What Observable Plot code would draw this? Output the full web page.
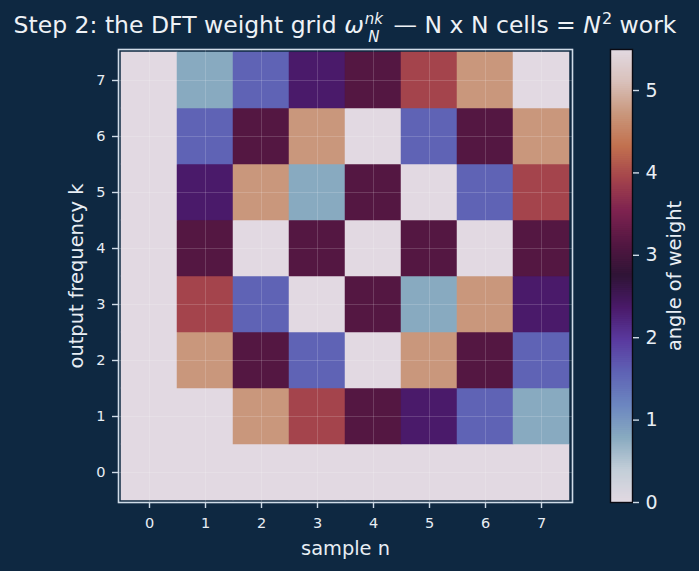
<!DOCTYPE html>
<html>
<head>
<meta charset="utf-8">
<script src="https://cdn.jsdelivr.net/npm/d3@7"></script>
<script src="https://cdn.jsdelivr.net/npm/@observablehq/plot@0.6"></script>
<style>
  html, body { margin: 0; padding: 0; background: #0e2841; }
  #wrap { position: relative; width: 699px; height: 571px; background: #0e2841; overflow: hidden;
          font-family: "DejaVu Sans", sans-serif; color: #eef2f6; }
  #title { position: absolute; left: 0; top: 8px; width: 690px; text-align: center; font-size: 23.5px;
           line-height: 34px; white-space: nowrap; }
  #title i { font-style: italic; }
  .scripts { display: inline-flex; flex-direction: column; position: relative; top: -9px;
             font-size: 15px; line-height: 17.6px; font-style: italic; margin-left: 1px; margin-right: 3px; }
  .sup2 { font-size: 16px; position: relative; top: -9px; margin-left: 1px; }
  #main { position: absolute; left: 0; top: 40px; }
  #cbar { position: absolute; left: 590px; top: 40px; }
</style>
</head>
<body>
<div id="wrap">
  <div id="title">Step 2: the DFT weight grid <i>ω</i><span class="scripts"><span>nk</span><span>N</span></span> — N x N cells = <i>N</i><span class="sup2">2</span> work</div>
  <div id="main"></div>
  <div id="cbar"></div>
</div>
<script>
// ---- data ----
const SAMPLE_N = [0, 1, 2, 3, 4, 5, 6, 7];
const FREQ_K = [0, 1, 2, 3, 4, 5, 6, 7];
// angle of each weight, in units of pi/4, one row per output frequency k (k = 0..7), columns n = 0..7
const ANGLE_STEPS = [
  [0, 0, 0, 0, 0, 0, 0, 0],
  [0, 7, 6, 5, 4, 3, 2, 1],
  [0, 6, 4, 2, 0, 6, 4, 2],
  [0, 5, 2, 7, 4, 1, 6, 3],
  [0, 4, 0, 4, 0, 4, 0, 4],
  [0, 3, 6, 1, 4, 7, 2, 5],
  [0, 2, 4, 6, 0, 2, 4, 6],
  [0, 1, 2, 3, 4, 5, 6, 7]
];
const ANGLE_UNIT = Math.PI / 4;
const ANGLE_MAX = 7 * Math.PI / 4;
const CBAR_TICKS = [0, 1, 2, 3, 4, 5];
// twilight-like colormap stops
const TWILIGHT = ["#e2d9e2", "#c3ced8", "#88aac0", "#6c86c0", "#5f63b5", "#5a3a9f", "#4a1a6a",
                  "#2f1436", "#541742", "#7e2350", "#a4444c", "#c2714f", "#c9977c", "#d9c1bb", "#e2d9e2"];

const cells = [];
FREQ_K.forEach((k, i) => SAMPLE_N.forEach((n, j) => cells.push({n, k, angle: ANGLE_STEPS[i][j] * ANGLE_UNIT})));

const interp = d3.piecewise(d3.interpolateRgb, TWILIGHT);
const colorScale = {type: "linear", domain: [0, ANGLE_MAX], interpolate: interp};
const fg = "#e8eef4";
const spine = "#cfdbe7";

const main = Plot.plot({
  width: 699, height: 531,
  marginLeft: 118, marginRight: 127, marginTop: 9, marginBottom: 69,
  style: {background: "transparent", color: fg, fontFamily: "DejaVu Sans", fontSize: "14.5px", overflow: "visible"},
  x: {type: "band", domain: SAMPLE_N, padding: 0},
  y: {type: "band", domain: FREQ_K.slice().reverse(), padding: 0},
  color: colorScale,
  marks: [
    Plot.cell(cells, {x: "n", y: "k", fill: "angle", inset: 0, stroke: "angle", strokeWidth: 0.5}),
    Plot.gridX({stroke: "#ffffff", strokeOpacity: 0.16, strokeWidth: 1}),
    Plot.gridY({stroke: "#ffffff", strokeOpacity: 0.16, strokeWidth: 1}),
    Plot.frame({stroke: spine, strokeWidth: 1.6}),
    Plot.axisX({tickSize: 6, tickPadding: 9.5, stroke: spine, strokeWidth: 1.4, fill: fg, label: null, fontSize: 14.5}),
    Plot.axisY({tickSize: 6, tickPadding: 7, stroke: spine, strokeWidth: 1.4, fill: fg, label: null, fontSize: 14.5}),
    Plot.text(["sample n"], {frameAnchor: "bottom", lineAnchor: "middle", textAnchor: "middle", dy: 46, fill: fg, fontSize: 19.4}),
    Plot.text(["output frequency k"], {frameAnchor: "left", lineAnchor: "middle", textAnchor: "middle", dx: -42, rotate: -90, fill: fg, fontSize: 19.4})
  ]
});
document.getElementById("main").appendChild(main);

const nStops = 220;
const h = ANGLE_MAX / nStops;
const stops = d3.range(nStops).map(i => i * h);
const cbar = Plot.plot({
  width: 109, height: 531,
  marginLeft: 20, marginRight: 67, marginTop: 9, marginBottom: 69,
  style: {background: "transparent", color: fg, fontFamily: "DejaVu Sans", fontSize: "19px", overflow: "visible"},
  x: {domain: [0, 1], axis: null},
  y: {domain: [0, ANGLE_MAX]},
  color: colorScale,
  marks: [
    Plot.rect(stops, {x1: 0, x2: 1, y1: d => d, y2: d => Math.min(d + h * 1.5, ANGLE_MAX), fill: d => d + h / 2}),
    Plot.frame({stroke: "#0a0a12", strokeWidth: 1.4}),
    Plot.axisY(CBAR_TICKS, {anchor: "right", tickSize: 6, tickPadding: 7, tickFormat: d3.format("d"), stroke: spine, strokeWidth: 1.4, fill: fg, label: null, fontSize: 19}),
    Plot.text(["angle of weight"], {frameAnchor: "right", lineAnchor: "middle", textAnchor: "middle", dx: 42, rotate: -90, fill: fg, fontSize: 19.4})
  ]
});
document.getElementById("cbar").appendChild(cbar);
</script>
</body>
</html>
